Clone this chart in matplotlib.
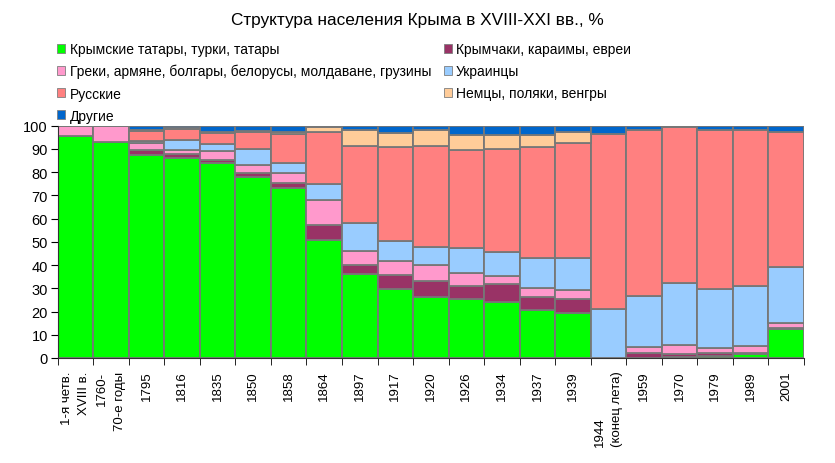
import matplotlib
matplotlib.use("Agg")
import matplotlib.pyplot as plt
from matplotlib.patches import Patch
import numpy as np

plt.rcParams['font.family'] = ['Liberation Sans', 'DejaVu Sans']

periods = ["1-я четв.\nXVIII в.", "1760-\n70-е годы", "1795", "1816", "1835", "1850", "1858",
           "1864", "1897", "1917", "1920", "1926", "1934", "1937", "1939",
           "1944\n(конец лета)", "1959", "1970", "1979", "1989", "2001"]

tatars   = [95.5, 93.0, 87.6, 85.9, 83.8, 77.8, 73.0, 50.7, 36.0, 29.6, 26.1, 25.4, 24.0, 20.8, 19.4, 0.0, 0.0, 0.3, 0.7, 1.9, 12.5]
krymchak = [0.0, 0.0, 1.8, 2.0, 1.3, 1.8, 2.2, 6.6, 3.9, 6.0, 7.2, 5.7, 7.9, 5.3, 5.8, 0.0, 2.3, 1.3, 1.3, 0.3, 0.3]
greeks   = [4.5, 7.0, 3.0, 1.8, 3.8, 3.5, 4.3, 10.6, 6.2, 6.2, 6.7, 5.5, 3.3, 3.9, 3.9, 0.0, 2.3, 4.0, 2.2, 3.1, 2.3]
ukrain   = [0.0, 0.0, 1.2, 4.3, 3.2, 6.9, 4.4, 7.1, 12.2, 8.6, 7.6, 10.6, 10.3, 12.9, 13.8, 21.1, 22.2, 26.6, 25.6, 25.8, 23.9]
russians = [0.0, 0.0, 4.2, 4.6, 4.8, 7.1, 12.5, 22.3, 32.8, 40.5, 43.7, 42.5, 44.5, 47.8, 49.7, 75.3, 71.4, 67.3, 68.4, 67.0, 58.1]
germans  = [0.0, 0.0, 0.5, 0.4, 0.5, 0.7, 1.0, 2.1, 7.1, 5.8, 6.7, 6.3, 6.0, 5.3, 4.9, 0.0, 0.0, 0.0, 0.0, 0.0, 0.0]
others   = [0.0, 0.0, 1.7, 1.0, 2.6, 2.2, 2.6, 0.6, 1.8, 3.3, 2.0, 4.0, 4.0, 4.0, 2.5, 3.6, 1.8, 0.5, 1.8, 1.9, 2.9]

series = [
    ("Крымские татары, турки, татары", tatars, "#00FF00"),
    ("Крымчаки, караимы, евреи", krymchak, "#993366"),
    ("Греки, армяне, болгары, белорусы, молдаване, грузины", greeks, "#FF99CC"),
    ("Украинцы", ukrain, "#99CCFF"),
    ("Русские", russians, "#FF8080"),
    ("Немцы, поляки, венгры", germans, "#FFCC99"),
    ("Другие", others, "#0066CC"),
]

fig = plt.figure(figsize=(8.35, 4.64), dpi=100)
ax = fig.add_axes([57.7 / 835, 1 - 359 / 464, (804 - 57.7) / 835, (359 - 126.7) / 464])

x = np.arange(len(periods))
bottom = np.zeros(len(periods))
handles = {}
for name, vals, col in series:
    v = np.array(vals)
    ax.bar(x, v, bottom=bottom, width=1.0, color=col, edgecolor="#777777", linewidth=1.3)
    bottom += v
    handles[name] = Patch(facecolor=col, edgecolor="#7f7f7f", linewidth=0.6)

ax.set_xlim(-0.5, len(periods) - 0.5)
ax.set_ylim(0, 100)
ax.set_yticks(range(0, 101, 10))
ax.tick_params(axis='y', labelsize=10.5, length=5, direction='out', pad=2)
ax.set_xticks(x)
ax.set_xticklabels(periods, rotation=90, fontsize=9.5, va='top', ha='center')
for i, lbl in enumerate(ax.get_xticklabels()):
    lbl.set_multialignment('left' if i == 15 else 'right')
    lbl.set_linespacing(1.6)
ax.tick_params(axis='x', length=0, pad=9)
ax.set_xticks(np.arange(-0.5, len(periods), 1), minor=True)
ax.tick_params(axis='x', which='minor', length=5, direction='out')
for s in ['top', 'right']:
    ax.spines[s].set_visible(False)
for s in ['left', 'bottom']:
    ax.spines[s].set_color('#333333')

order = [series[0][0], series[2][0], series[4][0], series[6][0],
         series[1][0], series[3][0], series[5][0]]
fig.legend([handles[n] for n in order], order, ncol=2, loc='upper left',
           bbox_to_anchor=(57 / 835, 1 - 43 / 464), frameon=False, fontsize=10,
           handlelength=0.6, handleheight=0.6, handletextpad=0.3,
           columnspacing=0.9, labelspacing=0.58, borderpad=0, borderaxespad=0)

fig.text(0.5, 1 - 20 / 464, "Структура населения Крыма в XVIII-XXI вв., %",
         ha='center', va='center', fontsize=12.4)

fig.savefig("out.png", dpi=100)
